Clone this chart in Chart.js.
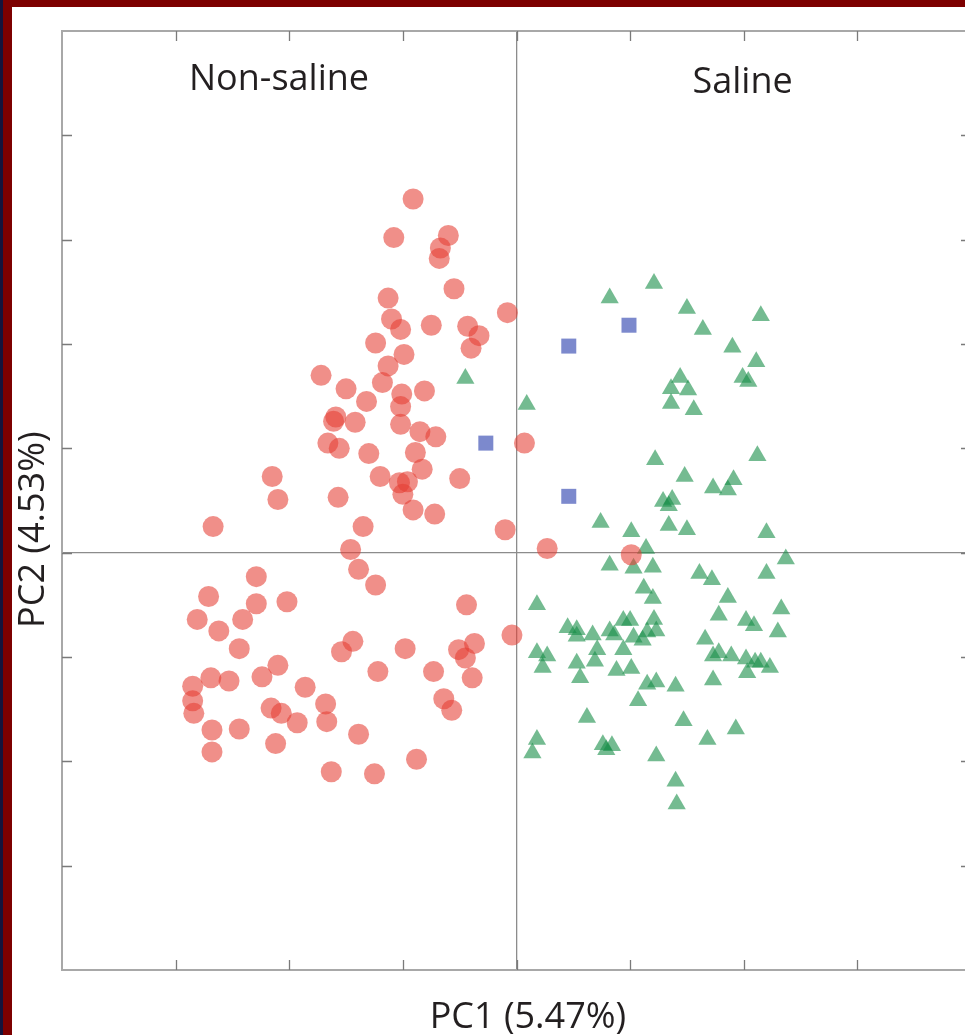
<!DOCTYPE html>
<html>
<head>
<meta charset="utf-8">
<title>PCA – PC1 vs PC2</title>
<script src="https://cdn.jsdelivr.net/npm/chart.js@4.4.1/dist/chart.umd.min.js"></script>
<style>
  html, body { margin: 0; padding: 0; background: #ffffff; overflow: hidden; }
  #wrap { position: absolute; left: 0; top: 0; width: 985px; height: 1035px; }
  #edgeTop { position: absolute; left: 0; top: 0; width: 985px; height: 7px; background: #7d0000; }
  #edgeLeft { position: absolute; left: 3px; top: 0; width: 9px; height: 1035px; background: #7d0000; }
  #edgeNavy { position: absolute; left: 0; top: 0; width: 3px; height: 1035px; background: #14143c; }
  canvas { position: absolute; left: 0; top: 0; }
</style>
</head>
<body>
<div id="wrap">
  <canvas id="pca" width="985" height="1035"></canvas>
</div>
<div id="edgeTop"></div>
<div id="edgeLeft"></div>
<div id="edgeNavy"></div>
<script>
// PC scores (PC1, PC2) for each sample group
const nonSaline = [
  [-0.91, 3.39], [-1.08, 3.02], [-0.60, 3.04], [-0.67, 2.92], [-0.68, 2.82],
  [-0.55, 2.53], [-1.13, 2.44], [-1.10, 2.24], [-1.02, 2.14], [-0.75, 2.18],
  [-0.43, 2.17], [-0.33, 2.08], [-0.40, 1.96], [-0.08, 2.30], [-1.24, 2.01],
  [-0.99, 1.90], [-1.13, 1.79], [-1.72, 1.70], [-1.50, 1.57], [-1.32, 1.45],
  [-1.18, 1.63], [-0.81, 1.55], [-1.01, 1.52], [-1.02, 1.40], [-1.59, 1.30],
  [-1.61, 1.26], [-1.42, 1.25], [-1.66, 1.05], [-1.56, 1.00], [-1.02, 1.23],
  [-0.85, 1.16], [-0.71, 1.11], [-0.89, 0.96], [-1.30, 0.95], [-1.20, 0.73],
  [-1.03, 0.67], [-0.96, 0.68], [-1.00, 0.56], [-0.91, 0.41], [-0.83, 0.80],
  [-0.72, 0.37], [-0.50, 0.71], [-2.15, 0.73], [-2.10, 0.51], [-1.57, 0.53],
  [-1.35, 0.25], [-2.67, 0.25], [-1.46, 0.03], [0.07, 1.05], [-0.10, 0.22],
  [0.27, 0.04], [1.01, -0.02], [-0.04, -0.79], [-1.39, -0.16], [-1.24, -0.31],
  [-2.29, -0.23], [-2.71, -0.42], [-2.29, -0.49], [-2.02, -0.47], [-2.81, -0.64],
  [-2.41, -0.64], [-2.62, -0.75], [-2.44, -0.92], [-1.44, -0.85], [-1.54, -0.95],
  [-0.98, -0.92], [-1.22, -1.14], [-0.73, -1.14], [-0.44, -0.50], [-0.51, -0.93],
  [-0.37, -0.87], [-0.45, -1.01], [-0.39, -1.20], [-2.69, -1.20], [-2.53, -1.23],
  [-2.24, -1.19], [-2.10, -1.08], [-2.85, -1.28], [-2.85, -1.42], [-2.84, -1.54],
  [-1.86, -1.29], [-2.16, -1.49], [-2.07, -1.54], [-1.93, -1.63], [-1.68, -1.45],
  [-1.67, -1.62], [-0.64, -1.40], [-0.57, -1.51], [-2.68, -1.70], [-2.44, -1.69],
  [-1.39, -1.74], [-2.12, -1.83], [-2.68, -1.91], [-1.63, -2.10], [-1.25, -2.12],
  [-0.88, -1.98]
];

const saline = [
  [0.82, 2.44], [1.21, 2.58], [1.50, 2.34], [1.64, 2.14], [2.15, 2.27],
  [1.90, 1.97], [2.11, 1.83], [1.99, 1.68], [2.04, 1.64], [1.44, 1.68],
  [1.36, 1.57], [1.51, 1.56], [1.36, 1.43], [1.56, 1.37], [-0.45, 1.67],
  [0.09, 1.42], [1.22, 0.89], [2.12, 0.93], [1.48, 0.73], [1.73, 0.62],
  [1.91, 0.70], [1.86, 0.60], [1.29, 0.49], [1.37, 0.51], [1.34, 0.45],
  [0.74, 0.29], [1.01, 0.20], [1.34, 0.26], [1.50, 0.22], [2.20, 0.19],
  [1.14, 0.04], [2.37, -0.06], [0.82, -0.12], [1.03, -0.15], [1.20, -0.14],
  [1.61, -0.20], [1.72, -0.26], [2.20, -0.20], [1.12, -0.34], [1.20, -0.44],
  [1.86, -0.43], [0.18, -0.50], [1.78, -0.60], [2.33, -0.54], [2.02, -0.65],
  [2.09, -0.70], [2.30, -0.76], [0.45, -0.72], [0.53, -0.74], [0.53, -0.80],
  [0.67, -0.79], [0.82, -0.75], [0.86, -0.79], [0.94, -0.65], [1.00, -0.65],
  [1.21, -0.64], [1.15, -0.76], [1.23, -0.75], [1.03, -0.81], [1.11, -0.84],
  [0.71, -0.93], [0.94, -0.93], [0.18, -0.96], [0.27, -0.99], [0.23, -1.10],
  [0.53, -1.06], [0.69, -1.04], [0.56, -1.20], [0.88, -1.13], [1.01, -1.11],
  [1.66, -0.83], [1.73, -0.99], [1.78, -0.96], [1.89, -0.99], [2.02, -1.02],
  [2.10, -1.05], [2.15, -1.05], [2.23, -1.10], [2.03, -1.15], [1.73, -1.22],
  [1.15, -1.26], [1.23, -1.24], [1.40, -1.28], [1.07, -1.42], [0.62, -1.58],
  [1.47, -1.61], [1.93, -1.69], [1.68, -1.79], [0.18, -1.79], [0.14, -1.92],
  [0.76, -1.84], [0.79, -1.89], [0.84, -1.85], [1.23, -1.95], [1.40, -2.19],
  [1.41, -2.41]
];

const other = [
  [-0.27, 1.05], [0.46, 1.98], [0.99, 2.18], [0.46, 0.54]
];

// axis extents and tick positions (ticks carry no labels)
const pc1Range = [-4, 4];
const pc2Range = [-4, 5];
const pc1Ticks = [-3, -2, -1, 0, 1, 2, 3];
const pc2Ticks = [-3, -2, -1, 0, 1, 2, 3, 4];

const groupLabels = ['Non-saline', 'Saline'];
const axisTitles = ['PC1 (5.47%)', 'PC2 (4.53%)'];

const toPoints = arr => arr.map(([x, y]) => ({ x, y }));

const TEXT_FONT = '"Open Sans", "Noto Sans", sans-serif';
const TEXT_COLOR = '#231f20';

// frame, inward tick marks and text labels
const framePlugin = {
  id: 'frame',
  beforeDatasetsDraw(chart) {
    const { ctx, chartArea: a, scales: { x, y } } = chart;
    ctx.save();
    ctx.strokeStyle = '#a8a8a8';
    ctx.lineWidth = 2;
    ctx.strokeRect(a.left, a.top, a.right - a.left, a.bottom - a.top);

    ctx.strokeStyle = '#7a7a7a';
    ctx.lineWidth = 1.3;
    const len = 10;
    ctx.beginPath();
    pc1Ticks.forEach(v => {
      const px = Math.round(x.getPixelForValue(v)) + 0.5;
      ctx.moveTo(px, a.bottom); ctx.lineTo(px, a.bottom - len);
      ctx.moveTo(px, a.top); ctx.lineTo(px, a.top + len);
    });
    pc2Ticks.forEach(v => {
      const py = Math.round(y.getPixelForValue(v)) + 0.5;
      ctx.moveTo(a.left, py); ctx.lineTo(a.left + len, py);
      ctx.moveTo(a.right, py); ctx.lineTo(a.right - len, py);
    });
    ctx.stroke();
    ctx.restore();
  },
  afterDraw(chart) {
    const { ctx, chartArea: a, scales: { x, y } } = chart;
    ctx.save();
    ctx.fillStyle = TEXT_COLOR;
    ctx.font = '36px ' + TEXT_FONT;
    ctx.textAlign = 'center';
    ctx.textBaseline = 'alphabetic';
    ctx.fillText(groupLabels[0], x.getPixelForValue(-2.09), 90);
    ctx.fillText(groupLabels[1], x.getPixelForValue(1.99), 93);

    ctx.fillText(axisTitles[0], x.getPixelForValue(0.1), 1028);

    ctx.translate(44, y.getPixelForValue(0.22));
    ctx.rotate(-Math.PI / 2);
    ctx.fillText(axisTitles[1], 0, 0);
    ctx.restore();
  }
};

new Chart(document.getElementById('pca'), {
  type: 'scatter',
  data: {
    datasets: [
      {
        label: 'Non-saline',
        data: toPoints(nonSaline),
        pointStyle: 'circle',
        pointRadius: 10.5,
        pointHoverRadius: 10.5,
        backgroundColor: 'rgba(230, 62, 52, 0.58)',
        borderWidth: 0
      },
      {
        label: 'Saline',
        data: toPoints(saline),
        pointStyle: 'triangle',
        pointRadius: 10.5,
        pointHoverRadius: 10.5,
        backgroundColor: 'rgba(24, 142, 72, 0.6)',
        borderWidth: 0
      },
      {
        label: 'Other',
        data: toPoints(other),
        pointStyle: 'rect',
        pointRadius: 10.6,
        pointHoverRadius: 10.6,
        backgroundColor: 'rgba(110, 124, 200, 0.9)',
        borderWidth: 0
      }
    ]
  },
  options: {
    responsive: false,
    animation: false,
    layout: { padding: { left: 62, top: 31, right: 14, bottom: 65 } },
    plugins: {
      legend: { display: false },
      tooltip: { enabled: false },
      title: { display: false }
    },
    scales: {
      x: {
        type: 'linear',
        min: pc1Range[0],
        max: pc1Range[1],
        ticks: { display: false, stepSize: 1 },
        grid: {
          drawTicks: false,
          lineWidth: 1.3,
          color: c => (c.tick && c.tick.value === 0 ? '#8c8c8c' : 'rgba(0,0,0,0)')
        },
        border: { display: false }
      },
      y: {
        type: 'linear',
        min: pc2Range[0],
        max: pc2Range[1],
        ticks: { display: false, stepSize: 1 },
        grid: {
          drawTicks: false,
          lineWidth: 1.3,
          color: c => (c.tick && c.tick.value === 0 ? '#8c8c8c' : 'rgba(0,0,0,0)')
        },
        border: { display: false }
      }
    }
  },
  plugins: [framePlugin]
});
</script>
</body>
</html>
